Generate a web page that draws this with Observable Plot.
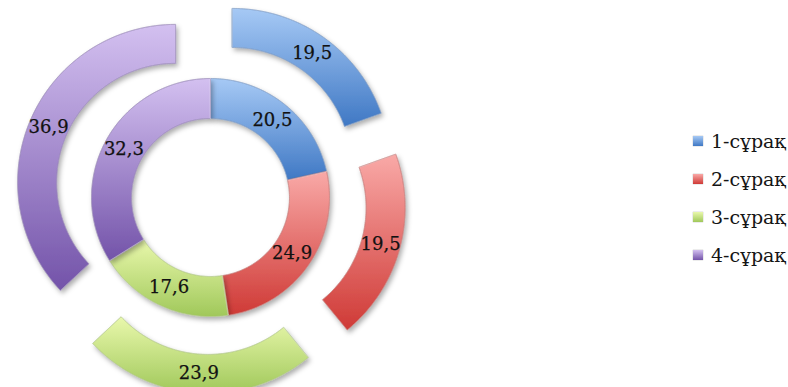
<!DOCTYPE html>
<html><head><meta charset="utf-8">
<script src="https://cdn.jsdelivr.net/npm/d3@7"></script>
<script src="https://cdn.jsdelivr.net/npm/@observablehq/plot@0.6"></script>
<style>
body{margin:0;background:#fff;}
#wrap{position:relative;width:788px;height:387px;overflow:hidden;background:#fff;}
#chart{position:absolute;left:0;top:0;}
#legend{position:absolute;left:693px;top:122px;font-family:"DejaVu Serif";font-size:19px;color:#151515;white-space:nowrap;}
.row{height:38px;display:flex;align-items:center;}
.sw{width:10px;height:10px;margin-right:8px;box-shadow:0 0 1px rgba(0,0,0,.45);}
</style></head><body>
<div id="wrap"><div id="chart"></div><div id="legend"></div></div>
<script>
// ---- data ----
const categories = ["1-сұрақ", "2-сұрақ", "3-сұрақ", "4-сұрақ"];
const innerValues = [20.5, 24.9, 17.6, 32.3];
const outerValues = [19.5, 19.5, 23.9, 36.9];

// ---- styles ----
const lightColors = ["#a6c9f5", "#f9a9a7", "#e9f8ac", "#d3c0f0"];
const darkColors  = ["#3f78c4", "#cf3a36", "#a0c85a", "#7353a9"];
const edgeColors  = ["#335f9c", "#a22e2b", "#82a346", "#5c4288"];

const fmt = v => v.toFixed(1).replace(".", ",");
const pie = d3.pie().sort(null).value(d => d.value);

function ring(values, name, r0, r1, explode) {
  const arcs = pie(values.map((v, i) => ({cat: categories[i], value: v, i})));
  const pts = [], labels = [];
  const N = 72;
  arcs.forEach(a => {
    const mid = (a.startAngle + a.endAngle) / 2;
    const ox = explode * Math.sin(mid), oy = explode * Math.cos(mid);
    const id = name + a.index;
    for (let k = 0; k <= N; k++) {
      const t = a.startAngle + (a.endAngle - a.startAngle) * k / N;
      pts.push({id, i: a.index, x: ox + r1 * Math.sin(t), y: oy + r1 * Math.cos(t)});
    }
    for (let k = N; k >= 0; k--) {
      const t = a.startAngle + (a.endAngle - a.startAngle) * k / N;
      pts.push({id, i: a.index, x: ox + r0 * Math.sin(t), y: oy + r0 * Math.cos(t)});
    }
    const rm = (r0 + r1) / 2;
    labels.push({x: ox + rm * Math.sin(mid), y: oy + rm * Math.cos(mid), text: fmt(a.data.value)});
  });
  return {pts, labels};
}

const inner = ring(innerValues, "in", 79, 119, 0);
const outer = ring(outerValues, "out", 119, 158, 38);
const allPts = inner.pts.concat(outer.pts);
const allLabels = inner.labels.concat(outer.labels);

const svg = Plot.plot({
  width: 680, height: 387, margin: 0,
  x: {domain: [-210, 470], axis: null},
  y: {domain: [-190, 197], axis: null},
  color: {type: "identity"},
  marks: [
    Plot.line(allPts, {
      x: "x", y: "y", z: "id", curve: "linear-closed",
      fill: d => `url(#g${d.i})`,
      stroke: d => edgeColors[d.i], strokeOpacity: 0.6, strokeWidth: 1,
      className: "seg"
    }),
    Plot.line(allPts, {
      x: "x", y: "y", z: "id", curve: "linear-closed",
      fill: "none", stroke: "white", strokeOpacity: 0.3, strokeWidth: 1,
      className: "hl"
    }),
    Plot.text(allLabels, {
      x: "x", y: "y", text: "text",
      fontFamily: "DejaVu Serif", fontSize: 18, fill: "#111",
      stroke: "#111", strokeWidth: 0.25
    })
  ]
});

const defs = d3.select(svg).insert("defs", ":first-child");
const f = defs.append("filter").attr("id", "shadow")
  .attr("x", "-20%").attr("y", "-20%").attr("width", "140%").attr("height", "140%");
f.append("feDropShadow").attr("dx", 2).attr("dy", 3).attr("stdDeviation", 2.5)
  .attr("flood-color", "#000").attr("flood-opacity", 0.32);
lightColors.forEach((c, i) => {
  const g = defs.append("linearGradient").attr("id", "g" + i)
    .attr("x1", 0).attr("y1", 0).attr("x2", 0).attr("y2", 1);
  g.append("stop").attr("offset", "0%").attr("stop-color", c);
  g.append("stop").attr("offset", "100%").attr("stop-color", darkColors[i]);
});
d3.select(svg).selectAll(".seg path").attr("filter", "url(#shadow)");

document.getElementById("chart").appendChild(svg);

const legend = d3.select("#legend");
categories.forEach((c, i) => {
  const row = legend.append("div").attr("class", "row");
  row.append("span").attr("class", "sw")
    .style("background", `linear-gradient(${lightColors[i]}, ${darkColors[i]})`);
  row.append("span").text(c);
});
</script>
</body></html>
